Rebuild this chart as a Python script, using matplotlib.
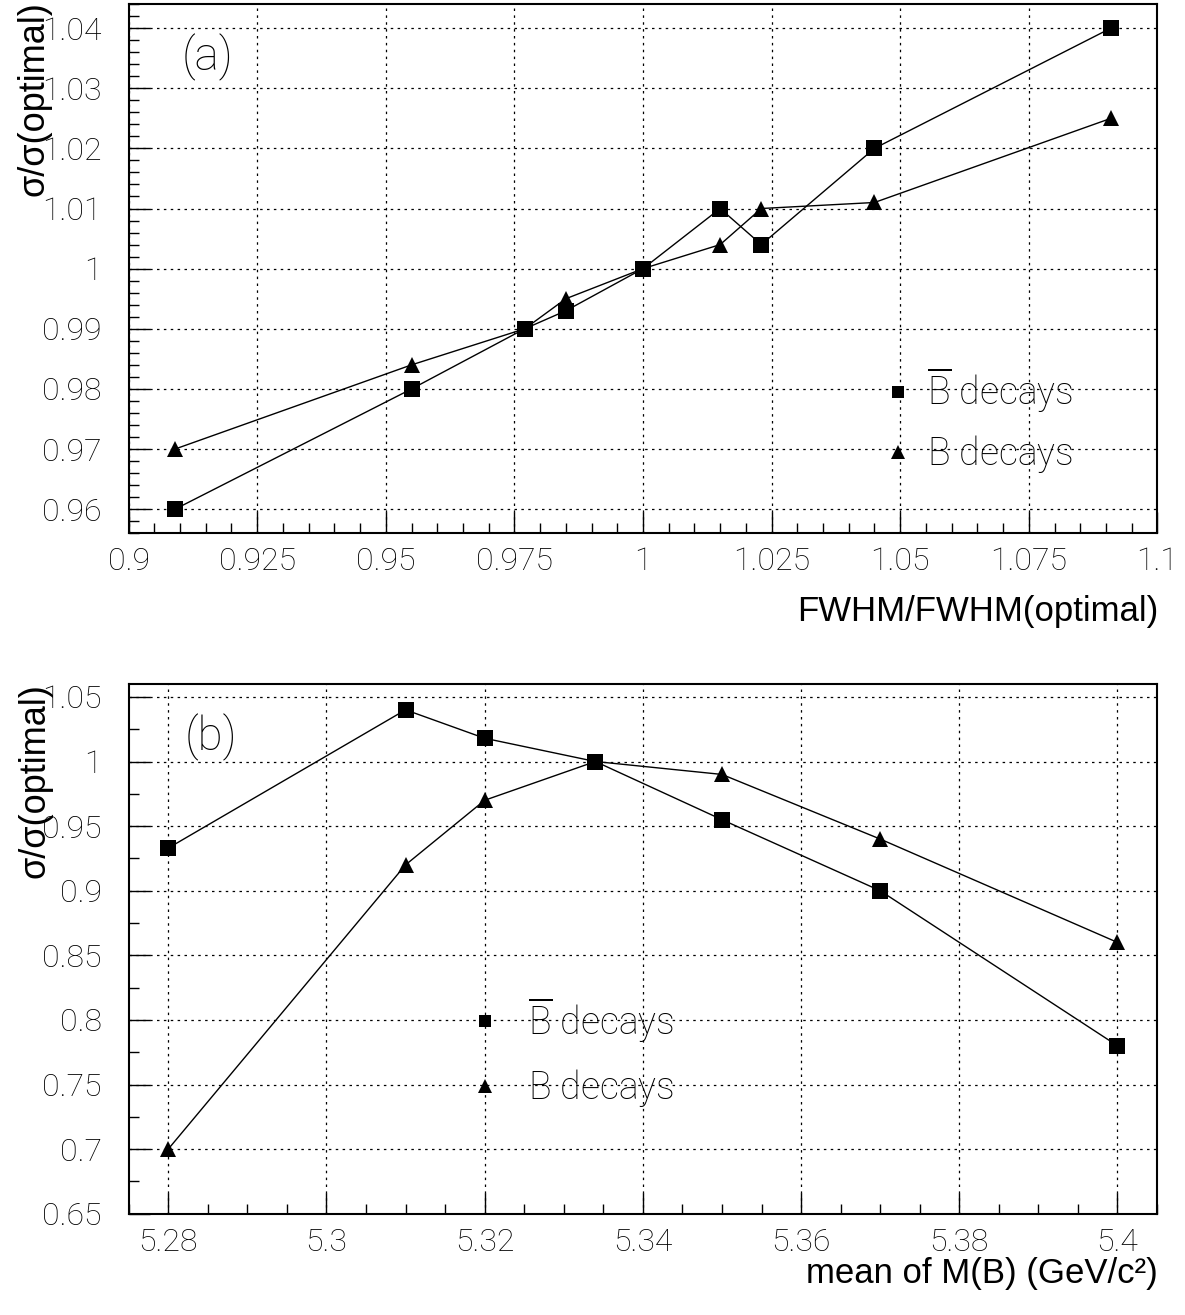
import matplotlib
matplotlib.use('Agg')
import matplotlib.pyplot as plt
from matplotlib.lines import Line2D
from matplotlib.ticker import MultipleLocator, FuncFormatter

# panel (a): FWHM scan
fwhm_ratio = [0.909, 0.955, 0.977, 0.985, 1.0, 1.015, 1.023, 1.045, 1.091]
a_bbar = [0.960, 0.980, 0.990, 0.993, 1.000, 1.010, 1.004, 1.020, 1.040]
a_b = [0.970, 0.984, 0.990, 0.995, 1.000, 1.004, 1.010, 1.011, 1.025]

# panel (b): mean of M(B) scan
mass_mean = [5.28, 5.31, 5.32, 5.334, 5.35, 5.37, 5.40]
b_bbar = [0.933, 1.040, 1.018, 1.000, 0.955, 0.900, 0.780]
b_b = [0.700, 0.920, 0.970, 1.000, 0.990, 0.940, 0.860]

legend_labels = [r'$\overline{\mathrm{B}}$ decays', r'$\mathrm{B}$ decays']

THIN = dict(family='Roboto', weight='light')
plt.rcParams['mathtext.fontset'] = 'custom'
plt.rcParams['mathtext.rm'] = 'Roboto:light'

fig = plt.figure(figsize=(11.85, 13.15), dpi=100)
W, H = 1185, 1315

def frac_axes(l, t, r, b):
    return fig.add_axes([l / W, 1 - b / H, (r - l) / W, (b - t) / H])

ax1 = frac_axes(128.6, 4, 1157.4, 533.3)
ax2 = frac_axes(128.7, 684, 1157, 1213.7)

fmt = FuncFormatter(lambda v, p: f'{round(v, 4):g}')


def style(ax, xmaj, xmin, ymaj, ymin):
    ax.xaxis.set_major_locator(MultipleLocator(xmaj))
    ax.xaxis.set_minor_locator(MultipleLocator(xmin))
    ax.yaxis.set_major_locator(MultipleLocator(ymaj))
    ax.yaxis.set_minor_locator(MultipleLocator(ymin))
    ax.xaxis.set_major_formatter(fmt)
    ax.yaxis.set_major_formatter(fmt)
    ax.tick_params(which='both', direction='in', top=False, right=False, color='black', width=1.0)
    ax.tick_params(which='major', length=15)
    ax.tick_params(which='minor', length=7.5)
    ax.tick_params(axis='x', which='major', pad=10)
    ax.tick_params(axis='y', which='major', pad=19.5)
    for lab in ax.get_xticklabels() + ax.get_yticklabels():
        lab.set_fontproperties(THIN)
        lab.set_fontsize(23)
    for s in ax.spines.values():
        s.set_linewidth(1.5)
    ax.grid(True, which='major', color='black', linestyle=(0, (2, 3.5)), linewidth=0.9)


def draw(ax, x, y1, y2):
    ax.plot(x, y1, color='black', linewidth=1.0, marker='s', markersize=11, markeredgewidth=0)
    ax.plot(x, y2, color='black', linewidth=1.0, marker='^', markersize=12, markeredgewidth=0)


def add_legend(ax, xa, ya, textpad, spacing):
    handles = [Line2D([], [], color='black', linestyle='none', marker='s', markersize=9, markeredgewidth=0),
               Line2D([], [], color='black', linestyle='none', marker='^', markersize=9.5, markeredgewidth=0)]
    leg = ax.legend(handles, legend_labels, loc='center left', bbox_to_anchor=(xa, ya),
                    frameon=False, handlelength=0.5, handletextpad=textpad,
                    labelspacing=spacing, borderpad=0, borderaxespad=0,
                    prop=dict(family='Roboto', weight='light', size=27))
    return leg


# panel (a)
draw(ax1, fwhm_ratio, a_bbar, a_b)
ax1.set_xlim(0.9, 1.1)
ax1.set_ylim(0.956, 1.044)
style(ax1, 0.025, 0.005, 0.01, 0.002)
add_legend(ax1, 0.739, 0.214, 0.52, 0.48)
ax1.text(0.077, 0.900, '(a)', transform=ax1.transAxes, ha='center', va='center',
         fontsize=33, **THIN)

# panel (b)
draw(ax2, mass_mean, b_bbar, b_b)
ax2.set_xlim(5.275, 5.405)
ax2.set_ylim(0.65, 1.06)
style(ax2, 0.02, 0.005, 0.05, 0.025)
add_legend(ax2, 0.3377, 0.305, 0.88, 0.6)
ax2.text(0.080, 0.900, '(b)', transform=ax2.transAxes, ha='center', va='center',
         fontsize=33, **THIN)

# axis titles, ROOT style at the axis ends
lab = dict(family='Liberation Sans', fontsize=25, color='black')
fig.text(34 / W, 1 - 1 / H, 'σ/σ(optimal)', rotation=90, ha='center', va='top',
         family='Liberation Sans', fontsize=26)
fig.text(35 / W, 1 - 683 / H, 'σ/σ(optimal)', rotation=90, ha='center', va='top',
         family='Liberation Sans', fontsize=26)
fig.text(1158 / W, 1 - 621 / H, 'FWHM/FWHM(optimal)', ha='right', va='baseline', **lab)
fig.text(1158 / W, 1 - 1283 / H, 'mean of M(B) (GeV/c²)', ha='right', va='baseline', **lab)

fig.savefig('out.png', dpi=100)
